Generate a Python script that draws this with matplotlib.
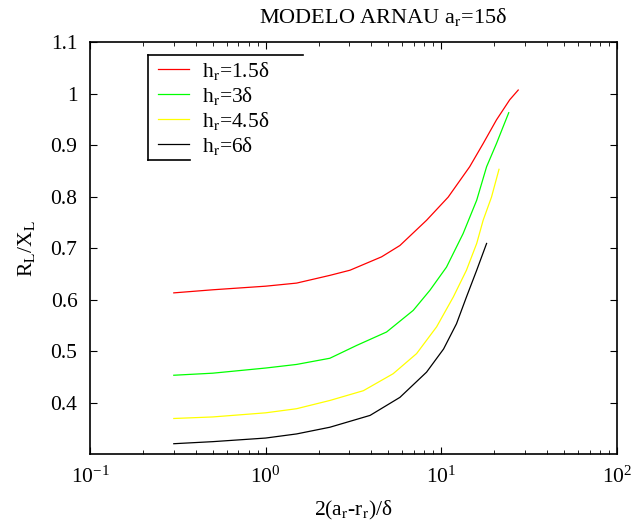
import numpy as np
import matplotlib
matplotlib.use('Agg')
import matplotlib.pyplot as plt
from matplotlib.lines import Line2D

plt.rcParams['font.family'] = ['Liberation Serif', 'DejaVu Serif']
plt.rcParams['mathtext.fontset'] = 'stix'

# values (x = 2(a_r - r_r)/delta, y = R_L/X_L)
x_h15 = [0.3, 0.5, 1.0, 1.5, 2.32, 3.02, 4.57, 5.81, 8.24, 10.94, 14.5, 17.3, 20.6, 24.5, 27.4]
y_h15 = [0.613, 0.619, 0.626, 0.632, 0.647, 0.657, 0.683, 0.705, 0.754, 0.799, 0.858, 0.903, 0.949, 0.988, 1.007]

x_h3 = [0.3, 0.5, 1.0, 1.5, 2.32, 3.30, 4.88, 6.92, 8.61, 10.7, 13.3, 15.9, 18.1, 20.6, 22.5, 24.2]
y_h3 = [0.453, 0.457, 0.467, 0.474, 0.486, 0.511, 0.537, 0.579, 0.618, 0.663, 0.728, 0.793, 0.858, 0.903, 0.936, 0.963]

x_h45 = [0.3, 0.5, 1.0, 1.5, 2.32, 3.60, 5.32, 7.23, 9.40, 11.7, 13.9, 15.9, 17.3, 19.3, 21.3]
y_h45 = [0.369, 0.372, 0.380, 0.388, 0.404, 0.423, 0.456, 0.495, 0.547, 0.605, 0.657, 0.709, 0.754, 0.799, 0.853]

x_h6 = [0.3, 0.5, 1.0, 1.5, 2.32, 3.93, 5.81, 8.24, 10.3, 12.2, 13.9, 15.9, 18.1]
y_h6 = [0.320, 0.324, 0.331, 0.339, 0.352, 0.375, 0.410, 0.459, 0.504, 0.553, 0.605, 0.657, 0.709]

labels = [r'h$_\mathrm{r}$=1.5δ', r'h$_\mathrm{r}$=3δ', r'h$_\mathrm{r}$=4.5δ', r'h$_\mathrm{r}$=6δ']
colors = ['#ff0000', '#00ff00', '#ffff00', '#000000']
yticks = [0.4, 0.5, 0.6, 0.7, 0.8, 0.9, 1.0, 1.1]
ytick_labels = ['0.4', '0.5', '0.6', '0.7', '0.8', '0.9', '1', '1.1']

fig = plt.figure(figsize=(6.31, 5.27), dpi=100)
ax = fig.add_axes([0.1426, 0.1385, 0.8352, 0.7815])

series = [(x_h15, y_h15), (x_h3, y_h3), (x_h45, y_h45), (x_h6, y_h6)]
for (xs, ys), lab, c in zip(series, labels, colors):
    ax.plot(xs, ys, color=c, lw=0.9, label=lab)

ax.set_xscale('log')
ax.set_xlim(0.1, 100)
ax.set_ylim(0.3, 1.1)
ax.set_yticks(yticks)
ax.set_yticklabels(ytick_labels)

ax.tick_params(which='both', direction='in', top=True, right=True, labelsize=15.5, pad=9)
ax.tick_params(which='major', length=5)
ax.tick_params(which='minor', length=3)
for sp in ax.spines.values():
    sp.set_linewidth(1.2)

# title sits right of the axes centre in the reference
fig.text(0.607, 0.957, r'MODELO ARNAU a$_\mathrm{r}$=15δ', fontsize=16, ha='center', va='baseline')
ax.set_xlabel(r'2(a$_\mathrm{r}$-r$_\mathrm{r}$)/δ', fontsize=15.5, labelpad=8)
ax.set_ylabel(r'R$_\mathrm{L}$/X$_\mathrm{L}$', fontsize=15.5, labelpad=10)

leg = ax.legend(loc='upper left', bbox_to_anchor=(0.113, 0.978), frameon=False,
                fontsize=15.5, handlelength=1.45, handletextpad=0.6, labelspacing=0.14,
                borderaxespad=0, borderpad=0.4)

# partial legend box as in the reference
tr = ax.transAxes
ax.add_line(Line2D([0.111, 0.404], [0.968, 0.968], transform=tr, color='k', lw=1.2, clip_on=False))
ax.add_line(Line2D([0.111, 0.111], [0.968, 0.714], transform=tr, color='k', lw=1.2, clip_on=False))
ax.add_line(Line2D([0.111, 0.190], [0.714, 0.714], transform=tr, color='k', lw=1.2, clip_on=False))

fig.savefig('out.png', dpi=100)
